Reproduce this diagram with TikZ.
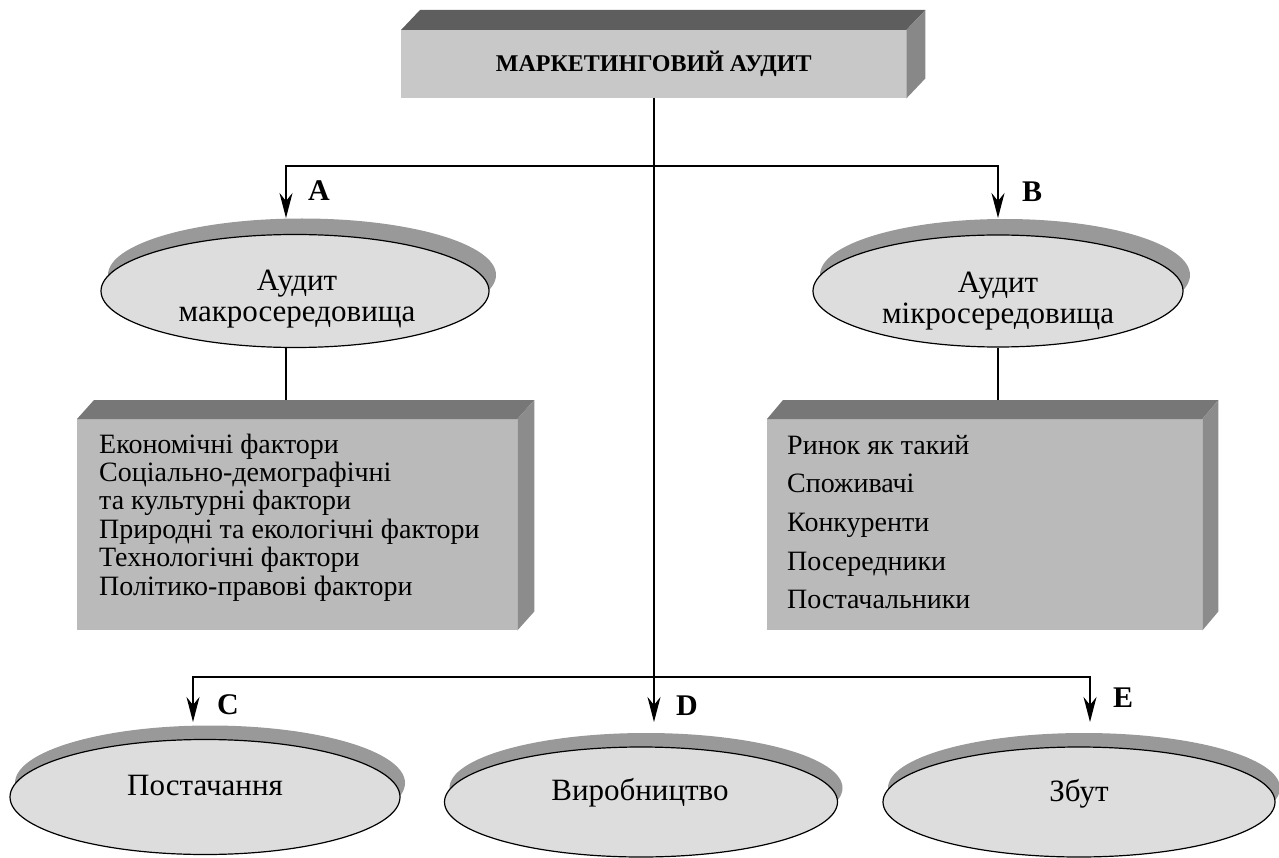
\documentclass[tikz,border=0pt]{standalone}
\usepackage{fontspec}
\setmainfont{Liberation Serif}
\usetikzlibrary{arrows.meta,shadows,calc,shapes.geometric}
\definecolor{ellfill}{HTML}{DDDDDD}
\definecolor{shgray}{HTML}{999999}
\definecolor{topfront}{HTML}{C8C8C8}
\definecolor{topup}{HTML}{5E5E5E}
\definecolor{topside}{HTML}{888888}
\definecolor{boxfront}{HTML}{BABABA}
\definecolor{boxup}{HTML}{777777}
\definecolor{boxside}{HTML}{8C8C8C}
\tikzset{
  ell/.style={ellipse, draw=black, line width=1.2pt, fill=ellfill, inner sep=0pt},
  ellsh/.style={general shadow={fill=shgray, draw=none, shadow xshift=7pt, shadow yshift=16pt}},
  ellshlow/.style={general shadow={fill=shgray, draw=none, shadow xshift=5pt, shadow yshift=14pt}},
  face/.style={draw=none, inner sep=0pt, anchor=north west},
  conn/.style={line width=1.6pt, draw=black},
  tip/.style={-{Stealth[length=25pt,width=13pt,inset=8pt]}},
  dtip/.style={{Stealth[length=25pt,width=13pt,inset=8pt]}-{Stealth[length=25pt,width=13pt,inset=8pt]}},
  lbl/.style={inner sep=0pt, font=\fontsize{30}{30}\selectfont\bfseries},
  txt/.style={inner sep=0pt, anchor=base},
}
\begin{document}
\begin{tikzpicture}[x=1pt,y=-1pt]
\useasboundingbox (0,0) rectangle (1279,858);

% top box
\node[face, fill=topfront, minimum width=505pt, minimum height=68pt,
      font=\fontsize{24}{24}\selectfont\bfseries] (top) at (401,30) {МАРКЕТИНГОВИЙ АУДИТ};
\fill[topup] (top.north west) -- ++(19,-20) -- ($(top.north east)+(19,-20)$) -- (top.north east) -- cycle;
\fill[topside] (top.north east) -- ++(19,-20) -- ($(top.south east)+(19,-20)$) -- (top.south east) -- cycle;

% ellipses A, B
\node[ell, ellsh, minimum width=388pt, minimum height=113pt] (A) at (295,291) {};
\node[ell, ellsh, minimum width=370pt, minimum height=112pt] (B) at (998,291) {};
\node[txt, font=\fontsize{31}{31}\selectfont] (tAtext) at (297,291)
  {\begin{tabular}[t]{@{}c@{}}Аудит\\макросередовища\end{tabular}};
\node[txt, font=\fontsize{31}{31}\selectfont] (tBtext) at (998,293)
  {\begin{tabular}[t]{@{}c@{}}Аудит\\мікросередовища\end{tabular}};

% boxes
\node[face, fill=boxfront, minimum width=440pt, minimum height=211pt] (boxA) at (77,419) {};
\fill[boxup] (boxA.north west) -- ++(17,-19) -- ($(boxA.north east)+(17,-19)$) -- (boxA.north east) -- cycle;
\fill[boxside] (boxA.north east) -- ++(17,-19) -- ($(boxA.south east)+(17,-19)$) -- (boxA.south east) -- cycle;
\node[face, fill=boxfront, minimum width=435pt, minimum height=211pt] (boxB) at (767,419) {};
\fill[boxup] (boxB.north west) -- ++(16,-19) -- ($(boxB.north east)+(16,-19)$) -- (boxB.north east) -- cycle;
\fill[boxside] (boxB.north east) -- ++(16,-19) -- ($(boxB.south east)+(16,-19)$) -- (boxB.south east) -- cycle;

\node[inner sep=0pt, anchor=base west, font=\fontsize{28}{28.4}\selectfont] (listA) at (99,453)
  {\begin{tabular}[t]{@{}l@{}}Економічні фактори\\Соціально-демографічні\\та культурні фактори\\Природні та екологічні фактори\\Технологічні фактори\\Політико-правові фактори\end{tabular}};
\node[inner sep=0pt, anchor=base west, font=\fontsize{28}{38.7}\selectfont] (listB) at (787,454)
  {\begin{tabular}[t]{@{}l@{}}Ринок як такий\\Споживачі\\Конкуренти\\Посередники\\Постачальники\end{tabular}};

% bottom ellipses
\node[ell, ellshlow, minimum width=390pt, minimum height=115pt] (C) at (205,797) {};
\node[ell, ellshlow, minimum width=393pt, minimum height=110pt] (D) at (641,802) {};
\node[ell, ellshlow, minimum width=392pt, minimum height=110pt] (E) at (1079,802) {};
\node[txt, font=\fontsize{31}{31}\selectfont] (tC) at (205,795) {Постачання};
\node[txt, font=\fontsize{31}{31}\selectfont] (tD) at (640,800) {Виробництво};
\node[txt, font=\fontsize{31}{31}\selectfont] (tE) at (1079,801) {Збут};

% connector coordinates
\coordinate (pA) at (286,218);
\coordinate (pB) at (998,218);
\coordinate (jA) at (286,166);
\coordinate (jB) at (998,166);
\coordinate (pC) at (193,722);
\coordinate (pD) at (654,722);
\coordinate (pE) at (1090,722);
\coordinate (jC) at (193,677);
\coordinate (jE) at (1090,677);

\draw[conn, tip] (top.south -| pD) -- (pD);
\draw[conn, dtip] (pA) -- (jA) -- (jB) -- (pB);
\draw[conn, dtip] (pC) -- (jC) -- (jE) -- (pE);
\draw[conn] (pA |- A.south) -- ($(pA |- boxA.north)+(0,-19)$);
\draw[conn] (pB |- B.south) -- ($(pB |- boxB.north)+(0,-19)$);

% labels
\node[lbl] (lA) at (319,191) {A};
\node[lbl] (lB) at (1032,192) {B};
\node[lbl] (lC) at (228,705) {C};
\node[lbl] (lD) at (687,706) {D};
\node[lbl] (lE) at (1123,698) {E};
\end{tikzpicture}
\end{document}
